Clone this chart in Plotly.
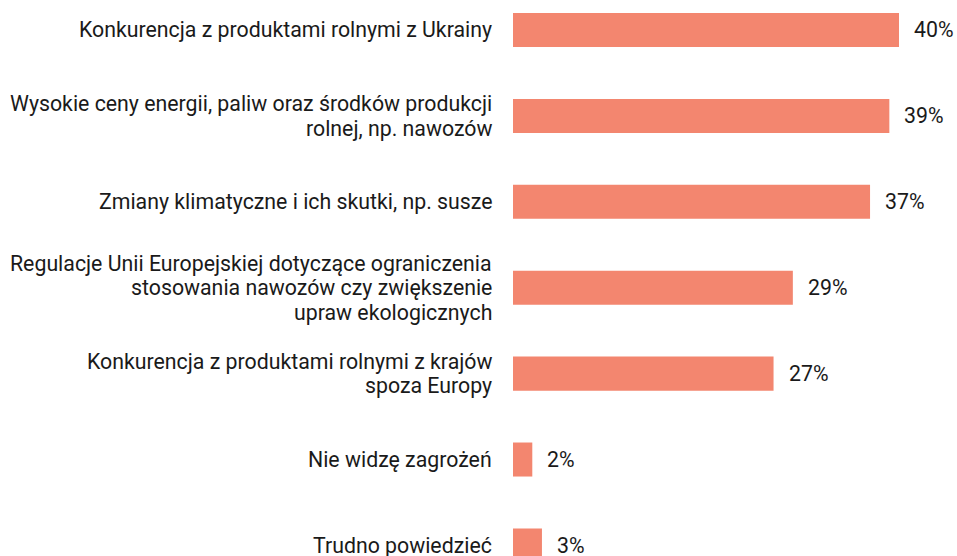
import plotly.graph_objects as go

categories = [
    "Konkurencja z produktami rolnymi z Ukrainy",
    "Wysokie ceny energii, paliw oraz środków produkcji<br>rolnej, np. nawozów",
    "Zmiany klimatyczne i ich skutki, np. susze",
    "Regulacje Unii Europejskiej dotyczące ograniczenia<br>stosowania nawozów czy zwiększenie<br>upraw ekologicznych",
    "Konkurencja z produktami rolnymi z krajów<br>spoza Europy",
    "Nie widzę zagrożeń",
    "Trudno powiedzieć",
]
values = [40, 39, 37, 29, 27, 2, 3]

BAR_COLOR = "#F3866F"
TEXT_COLOR = "#1a1a1a"
FONT = "Roboto"
FS = 21.3
LINE_H = 24.5

fig = go.Figure(go.Bar(
    x=values, y=categories, orientation="h",
    marker=dict(color=BAR_COLOR, line=dict(width=0)),
    width=0.396, hoverinfo="skip",
))

annotations = []
for c, v in zip(categories, values):
    lines = c.split("<br>")
    n = len(lines)
    for i, ln in enumerate(lines):
        annotations.append(dict(
            x=0, xref="paper", y=c, yref="y", text=ln, showarrow=False,
            xanchor="right", yanchor="middle", align="right", xshift=-19,
            yshift=((n - 1) / 2 - i) * LINE_H,
            font=dict(family=FONT, size=FS, color=TEXT_COLOR),
        ))
    annotations.append(dict(
        x=v, xref="x", y=c, yref="y", text=f"{v}%", showarrow=False,
        xanchor="left", yanchor="middle", xshift=13,
        font=dict(family=FONT, size=FS, color=TEXT_COLOR),
    ))

fig.update_layout(
    width=957, height=556,
    margin=dict(l=513, r=0, t=0, b=0),
    paper_bgcolor="white", plot_bgcolor="white",
    showlegend=False,
    xaxis=dict(range=[0, 444 / 9.65], visible=False, fixedrange=True),
    yaxis=dict(range=[6.123, -0.349], visible=False, fixedrange=True,
               type="category"),
    annotations=annotations,
    font=dict(family=FONT, size=FS, color=TEXT_COLOR),
)

fig.write_html(
    "out.html",
    config={"displayModeBar": False, "staticPlot": True},
    post_script="document.body.style.margin='0';document.body.style.overflow='hidden';",
)
